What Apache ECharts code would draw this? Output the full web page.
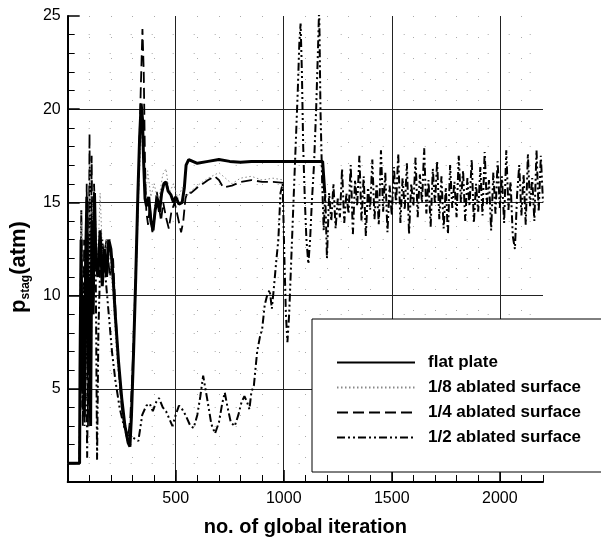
<!DOCTYPE html>
<html style="height: 100%">
<head>
    <meta charset="UTF-8">
    <title>p_stag vs global iteration</title>
    <script src="https://cdn.jsdelivr.net/npm/echarts/dist/echarts.min.js"></script>
    <style>
        #main {
            width: 601px;
            height: 542px;
        }
    </style>
</head>
<body style="margin: 0; background: #fff">
    <div id="main"></div>
    <script type="text/javascript">
        // [iteration, p_stag (atm)]
        var flatPlate = [
            [0, 1], [55, 1], [57, 6], [62, 13], [67, 5], [72, 10], [77, 3.5], [83, 12], [89, 15.3], [95, 6],
            [100, 11], [106, 3], [112, 14], [118, 9], [124, 15.5], [130, 12], [140, 11], [150, 13.5], [160, 10.5],
            [170, 12.5], [180, 11], [190, 13], [200, 12.5], [210, 11], [220, 9], [235, 6.5], [250, 4.5], [265, 3],
            [280, 2.1], [288, 1.9], [295, 3.5], [305, 7], [315, 11], [325, 15.5], [333, 18.5], [340, 20.3],
            [346, 19.5], [352, 17], [358, 15.2], [365, 14.8], [375, 15.3], [385, 14], [395, 13.5], [405, 14.6],
            [415, 15.2], [425, 14.5], [435, 15.5], [445, 16], [455, 16.1], [465, 15.6], [478, 15.4], [490, 15],
            [500, 15.3], [515, 14.9], [530, 15], [540, 15.8], [548, 17], [560, 17.3], [600, 17.1], [650, 17.2],
            [700, 17.3], [750, 17.2], [800, 17.15], [850, 17.2], [900, 17.2], [1000, 17.2], [1100, 17.2],
            [1180, 17.2], [1190, 15.5]
        ];
        var ablated18 = [
            [0, 1], [55, 1], [60, 9], [66, 14], [72, 5], [78, 12], [85, 4], [92, 15], [98, 8], [104, 17],
            [110, 6], [116, 15], [122, 10], [130, 14], [140, 12], [150, 15.5], [165, 11], [180, 13], [195, 12],
            [210, 10], [225, 7], [245, 4.5], [265, 3], [285, 2.3], [300, 5], [315, 10], [330, 16], [342, 19],
            [350, 17], [360, 15], [370, 16.7], [385, 15.3], [400, 16], [420, 15], [440, 16.5], [455, 16.8],
            [470, 15.5], [490, 16], [510, 15.2], [530, 15.8], [550, 15.3], [570, 15.6], [600, 15.9], [650, 16.3],
            [700, 16.6], [730, 16.3], [760, 16.0], [800, 16.3], [850, 16.4], [900, 16.2], [950, 16.3], [1000, 16.2]
        ];
        var ablated14 = [
            [0, 1], [55, 1], [58, 4], [64, 11], [70, 3], [76, 13], [82, 5], [88, 16], [94, 3], [101, 18.7],
            [106, 8], [111, 17.5], [116, 10], [122, 16], [130, 13], [140, 11.5], [150, 13], [165, 12], [180, 13],
            [195, 11], [210, 12], [222, 9], [236, 6], [250, 4], [265, 2.8], [278, 2.2], [290, 3.5], [300, 6],
            [312, 10], [322, 14], [330, 17], [338, 21], [346, 24.3], [352, 22], [358, 17], [364, 14.5],
            [372, 13.8], [380, 14.8], [392, 13.4], [402, 14.2], [412, 15.6], [422, 14.8], [432, 14.0], [442, 15],
            [455, 14.2], [468, 13.6], [480, 14.5], [495, 15], [510, 14.2], [525, 13.4], [535, 14], [545, 15.2],
            [555, 15.6], [570, 15.5], [600, 15.8], [650, 16.2], [680, 16.4], [700, 16.2], [720, 15.8], [760, 15.9],
            [800, 16.1], [850, 16.2], [900, 16.1], [950, 16.1], [1000, 16.05]
        ];
        var ablated12 = [
            [0, 1], [55, 1], [58, 5], [63, 14.6], [68, 4], [73, 10], [78, 3], [84, 12], [90, 1.3], [95, 7],
            [100, 13], [105, 4], [110, 15], [116, 9], [122, 14], [130, 11], [136, 1.2], [142, 8], [150, 11.5],
            [160, 13], [175, 11], [190, 9], [205, 7], [220, 5.5], [240, 4], [260, 3], [280, 2.5], [300, 2.4],
            [327, 2.2], [345, 3.6], [364, 4.1], [380, 4.2], [394, 3.8], [410, 4.3], [423, 4.5], [440, 4.0],
            [455, 3.8], [470, 3.4], [485, 3.0], [500, 3.6], [515, 4.1], [530, 3.9], [545, 3.6], [568, 3.0],
            [583, 2.9], [600, 3.6], [614, 4.6], [627, 5.7], [645, 4.5], [665, 3.1], [682, 2.6], [700, 3.2],
            [715, 4.2], [727, 4.8], [740, 4.0], [755, 3.2], [773, 3.0], [790, 3.6], [805, 4.3], [818, 4.6],
            [830, 4.3], [841, 3.9], [850, 4.8], [862, 5.2], [877, 7.0], [890, 7.8], [900, 8.2], [912, 9.5],
            [923, 10.0], [935, 10.3], [945, 9.3], [955, 10.5], [965, 11.8], [975, 13.0], [985, 15.5], [995, 16],
            [1003, 12], [1010, 9], [1017, 7.5], [1025, 9], [1035, 12], [1045, 15], [1055, 18], [1065, 21],
            [1072, 23.5], [1078, 24.6], [1084, 22], [1090, 18], [1098, 15], [1105, 13], [1114, 11.7], [1122, 13],
            [1130, 15], [1140, 17], [1150, 20], [1158, 23], [1164, 25.5], [1170, 20], [1178, 16], [1185, 13.5],
            [1192, 15.5], [1200, 12.0], [1210, 15.5], [1220, 14.0], [1230, 16.0], [1240, 13.6], [1250, 15.2],
            [1260, 14.2], [1270, 16.8], [1280, 13.9], [1290, 15.5], [1300, 14.4], [1310, 17.0], [1320, 13.3],
            [1330, 16.2], [1340, 14.8], [1350, 17.5], [1360, 14.0], [1370, 16.4], [1380, 13.2], [1390, 15.8],
            [1400, 14.6], [1410, 17.3], [1420, 14.1], [1430, 16.0], [1440, 13.8], [1450, 17.8], [1460, 14.5],
            [1470, 16.6], [1480, 13.4], [1490, 15.9], [1500, 14.3], [1510, 16.9], [1520, 14.9], [1530, 17.6],
            [1540, 13.9], [1550, 16.3], [1560, 14.6], [1570, 17.1], [1580, 13.3], [1590, 16.0], [1600, 14.8],
            [1610, 17.4], [1620, 14.2], [1630, 16.5], [1640, 15.0], [1650, 17.9], [1660, 14.4], [1670, 16.2],
            [1680, 13.7], [1690, 16.8], [1700, 14.9], [1710, 17.2], [1720, 14.1], [1730, 16.4], [1740, 13.6],
            [1750, 15.8], [1760, 13.3], [1770, 17.0], [1780, 14.7], [1790, 16.1], [1800, 14.2], [1810, 17.5],
            [1820, 15.0], [1830, 16.7], [1840, 14.0], [1850, 16.3], [1860, 14.8], [1870, 17.3], [1880, 13.9],
            [1890, 16.0], [1900, 14.5], [1910, 16.9], [1920, 14.3], [1930, 17.7], [1940, 14.9], [1950, 16.2],
            [1960, 13.5], [1970, 16.6], [1980, 14.4], [1990, 17.2], [2000, 14.7], [2010, 16.4], [2020, 13.9],
            [2030, 17.8], [2040, 14.6], [2050, 16.1], [2060, 13.2], [2070, 12.5], [2080, 15.4], [2090, 17.0],
            [2100, 14.3], [2110, 16.5], [2120, 13.8], [2130, 17.6], [2140, 14.8], [2150, 16.3], [2160, 14.0],
            [2170, 17.8], [2180, 14.5], [2190, 17.5], [2200, 15.0]
        ];
        var seriesNames = ['flat plate', '1/8 ablated surface', '1/4 ablated surface', '1/2 ablated surface'];

        var chartDom = document.getElementById('main');
        var myChart = echarts.init(chartDom);
        var option;

        var font = 'Liberation Sans, Arial, sans-serif';

        option = {
            animation: false,
            backgroundColor: '#fff',
            grid: { left: 60, right: 58, top: 16, bottom: 58 },
            legend: {
                orient: 'vertical',
                left: 312,
                top: 319,
                padding: [35, 60, 26, 24],
                itemWidth: 78,
                itemHeight: 14,
                itemGap: 8,
                backgroundColor: '#fff',
                borderColor: '#000',
                borderWidth: 1,
                data: seriesNames,
                itemStyle: { opacity: 0 },
                textStyle: {
                    fontFamily: font, fontSize: 17, fontWeight: 'bold', color: '#000',
                    padding: [0, 0, 0, 8]
                }
            },
            xAxis: [{
                // minor ticks / dotted grid every 100
                type: 'value', position: 'bottom',
                min: 0, max: 2200, interval: 100,
                axisLine: { show: true, lineStyle: { color: '#000', width: 2 } },
                axisTick: { inside: true, length: 7, lineStyle: { color: '#000' } },
                axisLabel: { show: false },
                splitLine: {
                    show: true, showMinLine: false, showMaxLine: false,
                    lineStyle: { color: '#aaa', width: 1, type: [1, 20] }
                }
            }, {
                type: 'value', position: 'bottom',
                min: 0, max: 2200, interval: 500,
                axisLine: { show: false },
                axisTick: { inside: true, length: 12, lineStyle: { color: '#000', width: 1.5 } },
                axisLabel: {
                    margin: 9, showMinLabel: false, showMaxLabel: false,
                    fontFamily: font, fontSize: 16, color: '#000',
                    formatter: function (v) { return String(v); }
                },
                splitLine: {
                    show: true, showMinLine: false, showMaxLine: false,
                    lineStyle: { color: '#222', width: 1 }
                },
                name: 'no. of global iteration',
                nameLocation: 'middle',
                nameGap: 35,
                nameTextStyle: { fontFamily: font, fontSize: 20, fontWeight: 'bold', color: '#000' }
            }],
            yAxis: {
                type: 'value',
                min: 0, max: 25, interval: 5,
                axisLine: { show: true, lineStyle: { color: '#000', width: 2 } },
                axisTick: { inside: true, length: 12, lineStyle: { color: '#000', width: 1.5 } },
                minorTick: { show: true, splitNumber: 5, length: 7, lineStyle: { color: '#000' } },
                axisLabel: {
                    margin: 7, showMinLabel: false,
                    fontFamily: font, fontSize: 16, color: '#000'
                },
                splitLine: {
                    show: true, showMinLine: false, showMaxLine: false,
                    lineStyle: { color: '#222', width: 1 }
                },
                minorSplitLine: { show: true, lineStyle: { color: '#aaa', width: 1, type: [1, 20] } },
                name: '{p|p}{s|stag}{p|(atm)}',
                nameLocation: 'middle',
                nameRotate: 90,
                nameGap: 23,
                nameTextStyle: {
                    fontFamily: font, fontWeight: 'bold', color: '#000',
                    padding: [0, 36, 0, 0],
                    rich: {
                        p: { fontFamily: font, fontSize: 22, fontWeight: 'bold', lineHeight: 26, verticalAlign: 'middle' },
                        s: { fontFamily: font, fontSize: 12, fontWeight: 'bold', lineHeight: 12, verticalAlign: 'bottom' }
                    }
                }
            },
            series: [{
                name: seriesNames[0], type: 'line', xAxisIndex: 0, symbol: 'none', z: 5,
                itemStyle: { color: '#000' },
                lineStyle: { color: '#000', width: 3 },
                data: flatPlate
            }, {
                name: seriesNames[1], type: 'line', xAxisIndex: 0, symbol: 'none', z: 4,
                itemStyle: { color: '#888' },
                lineStyle: { color: '#888', width: 1, type: [1.5, 2.5] },
                data: ablated18
            }, {
                name: seriesNames[2], type: 'line', xAxisIndex: 0, symbol: 'none', z: 3,
                itemStyle: { color: '#000' },
                lineStyle: { color: '#000', width: 1.8, type: [11, 5] },
                data: ablated14
            }, {
                name: seriesNames[3], type: 'line', xAxisIndex: 0, symbol: 'none', z: 3,
                itemStyle: { color: '#000' },
                lineStyle: { color: '#000', width: 2, type: [8, 3, 2, 3, 2, 3] },
                data: ablated12
            }]
        };

        myChart.setOption(option);
    </script>
</body>
</html>
